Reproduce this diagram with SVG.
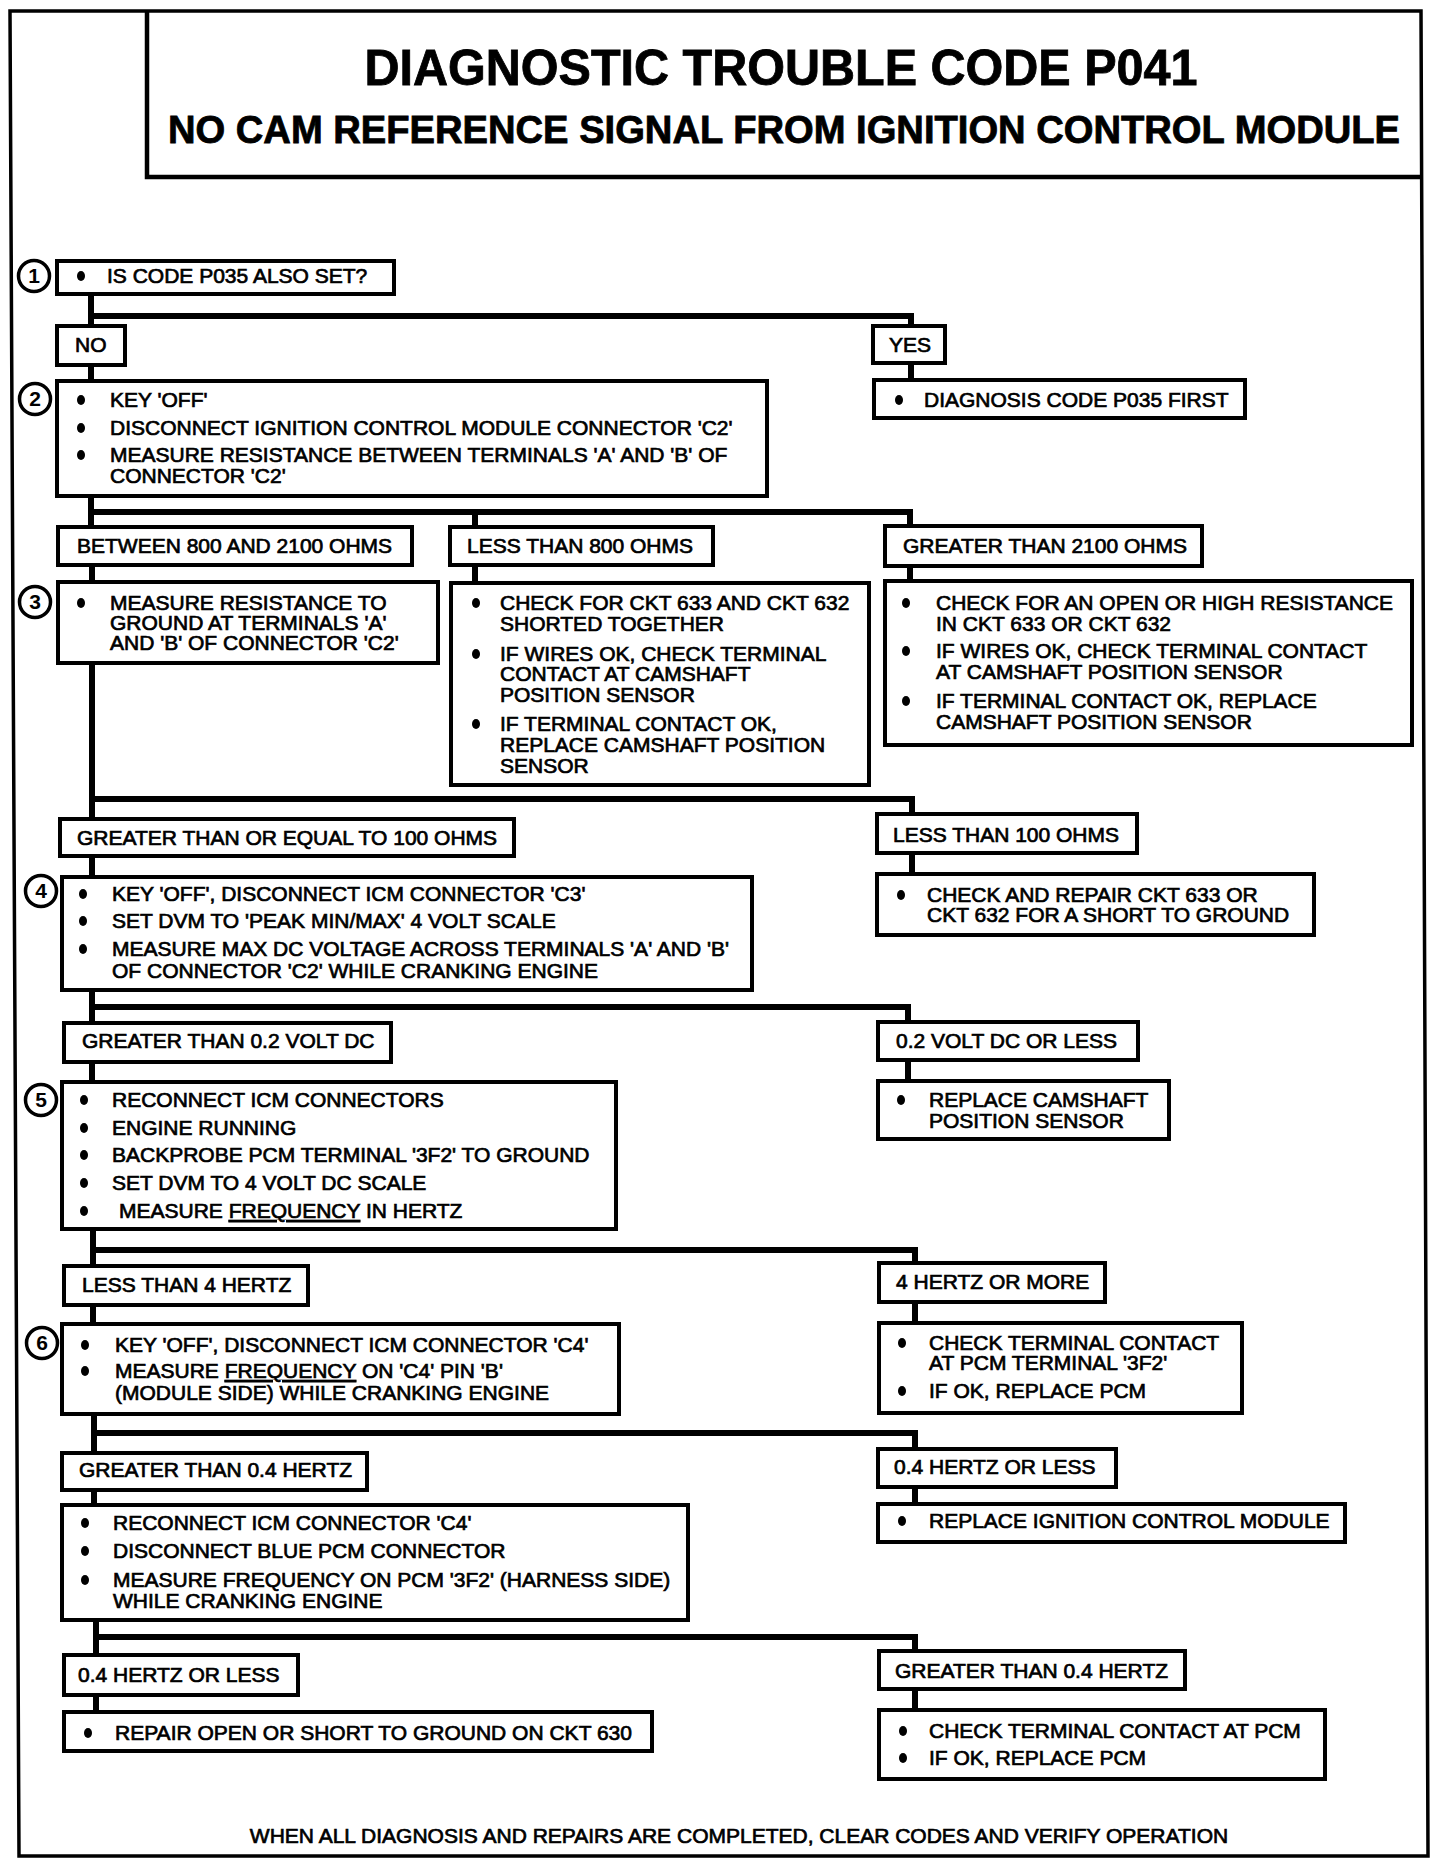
<svg xmlns="http://www.w3.org/2000/svg" width="1440" height="1866" viewBox="0 0 1440 1866">
<style>
.frame{fill:none;stroke:#000;stroke-width:3.5}
.b{fill:#fff;stroke:#000;stroke-width:4}
.c{fill:none;stroke:#000;stroke-width:6;stroke-linejoin:miter}
.n{fill:#fff;stroke:#000;stroke-width:3.5}
text{font-family:"Liberation Sans",Arial,Helvetica,sans-serif;font-size:21px;fill:#000;stroke:#000;stroke-width:0.7}
.title{font-weight:bold;stroke-width:0.8}
.num{font-size:21px;text-anchor:middle;font-weight:bold;stroke-width:0}
.d{fill:#000}
</style>
<defs>
<ellipse id="bl" cx="0" cy="0" rx="4" ry="5" class="d"/>
</defs>
<rect x="0" y="0" width="1440" height="1866" fill="#fff"/>
<path class="frame" d="M10,11 L1421,11 L1428,1856 L19,1856 Z"/>
<g id="title">
<path class="frame" d="M147,11 V177 H1421" style="stroke-width:4.5"/>
<text class="title" x="781" y="85" text-anchor="middle" textLength="833" lengthAdjust="spacingAndGlyphs" style="font-size:50px">DIAGNOSTIC TROUBLE CODE P041</text>
<text class="title" x="168" y="143" textLength="1232" lengthAdjust="spacingAndGlyphs" style="font-size:38px">NO CAM REFERENCE SIGNAL FROM IGNITION CONTROL MODULE</text>
</g>
<g id="connectors">
<path class="c" d="M91,294 V326"/>
<path class="c" d="M91,316 H911 V326"/>
<path class="c" d="M911,363 V380"/>
<path class="c" d="M91,365 V381"/>
<path class="c" d="M91,496 V527"/>
<path class="c" d="M91,512 H910 V526"/>
<path class="c" d="M475,512 V527"/>
<path class="c" d="M92,565 V582"/>
<path class="c" d="M475,565 V583"/>
<path class="c" d="M910,566 V581"/>
<path class="c" d="M92,663 V819"/>
<path class="c" d="M92,799 H912 V814"/>
<path class="c" d="M912,853 V874"/>
<path class="c" d="M92,856 V877"/>
<path class="c" d="M92,990 V1023"/>
<path class="c" d="M92,1007 H908 V1022"/>
<path class="c" d="M908,1060 V1081"/>
<path class="c" d="M92,1062 V1082"/>
<path class="c" d="M93,1229 V1266"/>
<path class="c" d="M93,1250 H915 V1263"/>
<path class="c" d="M915,1302 V1323"/>
<path class="c" d="M93,1305 V1324"/>
<path class="c" d="M94,1414 V1453"/>
<path class="c" d="M94,1433 H915 V1449"/>
<path class="c" d="M915,1487 V1504"/>
<path class="c" d="M94,1490 V1505"/>
<path class="c" d="M96,1620 V1655"/>
<path class="c" d="M96,1637 H915 V1651"/>
<path class="c" d="M915,1689 V1710"/>
<path class="c" d="M96,1695 V1712"/>
</g>
<g id="n1">
<circle class="n" cx="34" cy="276" r="15.5"/><text class="num" x="34" y="283">1</text>
<rect class="b" x="57" y="261" width="337" height="33"/>
<use href="#bl" x="81" y="276"/><text x="107" y="283">IS CODE P035 ALSO SET?</text>
</g>
<g id="no"><rect class="b" x="57" y="326" width="68" height="39"/><text x="75" y="352">NO</text></g>
<g id="yes"><rect class="b" x="873" y="326" width="72" height="37"/><text x="889" y="352">YES</text></g>
<g id="diag"><rect class="b" x="874" y="380" width="371" height="38"/>
<use href="#bl" x="899" y="400"/><text x="924" y="407">DIAGNOSIS CODE P035 FIRST</text></g>
<g id="n2">
<circle class="n" cx="35" cy="399" r="15.5"/><text class="num" x="35" y="406">2</text>
<rect class="b" x="57" y="381" width="710" height="115"/>
<use href="#bl" x="81" y="400"/><text x="110" y="407">KEY 'OFF'</text>
<use href="#bl" x="81" y="428"/><text x="110" y="435">DISCONNECT IGNITION CONTROL MODULE CONNECTOR 'C2'</text>
<use href="#bl" x="81" y="455"/><text x="110" y="462">MEASURE RESISTANCE BETWEEN TERMINALS 'A' AND 'B' OF</text>
<text x="110" y="483">CONNECTOR 'C2'</text>
</g>
<g id="between"><rect class="b" x="58" y="527" width="354" height="38"/><text x="77" y="553">BETWEEN 800 AND 2100 OHMS</text></g>
<g id="less800"><rect class="b" x="450" y="527" width="263" height="38"/><text x="467" y="553">LESS THAN 800 OHMS</text></g>
<g id="gt2100"><rect class="b" x="885" y="526" width="317" height="40"/><text x="903" y="553">GREATER THAN 2100 OHMS</text></g>
<g id="n3">
<circle class="n" cx="35" cy="602" r="15.5"/><text class="num" x="35" y="609">3</text>
<rect class="b" x="58" y="582" width="380" height="81"/>
<use href="#bl" x="81" y="603"/><text x="110" y="610">MEASURE RESISTANCE  TO</text>
<text x="110" y="630">GROUND AT TERMINALS 'A'</text>
<text x="110" y="650">AND 'B' OF CONNECTOR 'C2'</text>
</g>
<g id="short">
<rect class="b" x="451" y="583" width="418" height="202"/>
<use href="#bl" x="476" y="603"/><text x="500" y="610">CHECK FOR CKT 633 AND CKT 632</text>
<text x="500" y="631">SHORTED TOGETHER</text>
<use href="#bl" x="476" y="654"/><text x="500" y="661">IF WIRES OK, CHECK TERMINAL</text>
<text x="500" y="681">CONTACT AT CAMSHAFT</text>
<text x="500" y="702">POSITION SENSOR</text>
<use href="#bl" x="476" y="724"/><text x="500" y="731">IF TERMINAL CONTACT OK,</text>
<text x="500" y="752">REPLACE CAMSHAFT POSITION</text>
<text x="500" y="773">SENSOR</text>
</g>
<g id="open">
<rect class="b" x="885" y="581" width="527" height="164"/>
<use href="#bl" x="906" y="603"/><text x="936" y="610">CHECK FOR AN OPEN OR HIGH RESISTANCE</text>
<text x="936" y="631">IN CKT 633 OR CKT 632</text>
<use href="#bl" x="906" y="651"/><text x="936" y="658">IF WIRES OK, CHECK TERMINAL CONTACT</text>
<text x="936" y="679">AT CAMSHAFT POSITION SENSOR</text>
<use href="#bl" x="906" y="701"/><text x="936" y="708">IF TERMINAL CONTACT OK, REPLACE</text>
<text x="936" y="729">CAMSHAFT POSITION SENSOR</text>
</g>
<g id="ge100"><rect class="b" x="60" y="819" width="454" height="37"/><text x="77" y="845">GREATER THAN OR EQUAL TO 100 OHMS</text></g>
<g id="lt100"><rect class="b" x="877" y="814" width="260" height="39"/><text x="893" y="842">LESS THAN 100 OHMS</text></g>
<g id="repair633">
<rect class="b" x="877" y="874" width="437" height="61"/>
<use href="#bl" x="901" y="895"/><text x="927" y="902">CHECK AND REPAIR CKT 633 OR</text>
<text x="927" y="922">CKT 632 FOR A SHORT TO GROUND</text>
</g>
<g id="n4">
<circle class="n" cx="41" cy="891" r="15.5"/><text class="num" x="41" y="898">4</text>
<rect class="b" x="62" y="877" width="690" height="113"/>
<use href="#bl" x="83" y="894"/><text x="112" y="901">KEY 'OFF', DISCONNECT ICM CONNECTOR 'C3'</text>
<use href="#bl" x="83" y="921"/><text x="112" y="928">SET DVM TO 'PEAK MIN/MAX' 4 VOLT SCALE</text>
<use href="#bl" x="83" y="949"/><text x="112" y="956">MEASURE MAX DC VOLTAGE ACROSS TERMINALS 'A' AND 'B'</text>
<text x="112" y="978">OF CONNECTOR 'C2' WHILE CRANKING ENGINE</text>
</g>
<g id="gt02"><rect class="b" x="64" y="1023" width="327" height="39"/><text x="82" y="1048">GREATER THAN 0.2 VOLT DC</text></g>
<g id="le02"><rect class="b" x="878" y="1022" width="260" height="38"/><text x="896" y="1048">0.2 VOLT DC OR LESS</text></g>
<g id="replcam">
<rect class="b" x="878" y="1081" width="291" height="58"/>
<use href="#bl" x="901" y="1100"/><text x="929" y="1107">REPLACE CAMSHAFT</text>
<text x="929" y="1128">POSITION SENSOR</text>
</g>
<g id="n5">
<circle class="n" cx="41" cy="1100" r="15.5"/><text class="num" x="41" y="1107">5</text>
<rect class="b" x="62" y="1082" width="554" height="147"/>
<use href="#bl" x="84" y="1100"/><text x="112" y="1107">RECONNECT ICM CONNECTORS</text>
<use href="#bl" x="84" y="1128"/><text x="112" y="1135">ENGINE RUNNING</text>
<use href="#bl" x="84" y="1155"/><text x="112" y="1162">BACKPROBE PCM TERMINAL '3F2' TO GROUND</text>
<use href="#bl" x="84" y="1183"/><text x="112" y="1190">SET DVM TO 4 VOLT DC SCALE</text>
<use href="#bl" x="84" y="1211"/><text x="119" y="1218">MEASURE <tspan text-decoration="underline">FREQUENCY</tspan> IN HERTZ</text>
</g>
<g id="lt4"><rect class="b" x="64" y="1266" width="244" height="39"/><text x="82" y="1292">LESS THAN 4 HERTZ</text></g>
<g id="ge4"><rect class="b" x="879" y="1263" width="226" height="39"/><text x="896" y="1289">4 HERTZ OR MORE</text></g>
<g id="chk3f2">
<rect class="b" x="879" y="1323" width="363" height="90"/>
<use href="#bl" x="902" y="1343"/><text x="929" y="1350">CHECK TERMINAL CONTACT</text>
<text x="929" y="1370">AT PCM TERMINAL '3F2'</text>
<use href="#bl" x="902" y="1391"/><text x="929" y="1398">IF OK, REPLACE PCM</text>
</g>
<g id="n6">
<circle class="n" cx="42" cy="1343" r="15.5"/><text class="num" x="42" y="1350">6</text>
<rect class="b" x="62" y="1324" width="557" height="90"/>
<use href="#bl" x="85" y="1345"/><text x="115" y="1352">KEY 'OFF', DISCONNECT ICM CONNECTOR 'C4'</text>
<use href="#bl" x="85" y="1371"/><text x="115" y="1378">MEASURE <tspan text-decoration="underline">FREQUENCY</tspan> ON 'C4' PIN 'B'</text>
<text x="115" y="1400">(MODULE SIDE) WHILE CRANKING ENGINE</text>
</g>
<g id="gt04a"><rect class="b" x="62" y="1453" width="305" height="37"/><text x="79" y="1477">GREATER THAN 0.4 HERTZ</text></g>
<g id="le04a"><rect class="b" x="878" y="1449" width="238" height="38"/><text x="894" y="1474">0.4 HERTZ OR LESS</text></g>
<g id="replicm">
<rect class="b" x="878" y="1504" width="467" height="38"/>
<use href="#bl" x="902" y="1521"/><text x="929" y="1528">REPLACE IGNITION CONTROL MODULE</text>
</g>
<g id="n7">
<rect class="b" x="62" y="1505" width="626" height="115"/>
<use href="#bl" x="85" y="1523"/><text x="113" y="1530">RECONNECT ICM CONNECTOR 'C4'</text>
<use href="#bl" x="85" y="1551"/><text x="113" y="1558">DISCONNECT BLUE PCM CONNECTOR</text>
<use href="#bl" x="85" y="1580"/><text x="113" y="1587">MEASURE FREQUENCY ON PCM '3F2' (HARNESS SIDE)</text>
<text x="113" y="1608">WHILE CRANKING ENGINE</text>
</g>
<g id="le04b"><rect class="b" x="64" y="1655" width="234" height="40"/><text x="78" y="1682">0.4 HERTZ OR LESS</text></g>
<g id="gt04b"><rect class="b" x="879" y="1651" width="306" height="38"/><text x="895" y="1678">GREATER THAN 0.4 HERTZ</text></g>
<g id="repair630">
<rect class="b" x="64" y="1712" width="588" height="39"/>
<use href="#bl" x="88" y="1733"/><text x="115" y="1740">REPAIR OPEN OR SHORT TO GROUND ON CKT 630</text>
</g>
<g id="chkpcm">
<rect class="b" x="879" y="1710" width="446" height="69"/>
<use href="#bl" x="903" y="1731"/><text x="929" y="1738">CHECK TERMINAL CONTACT AT PCM</text>
<use href="#bl" x="903" y="1758"/><text x="929" y="1765">IF OK, REPLACE PCM</text>
</g>
<g id="footer"><text x="739" y="1843" text-anchor="middle">WHEN ALL DIAGNOSIS AND REPAIRS ARE COMPLETED, CLEAR CODES AND VERIFY OPERATION</text></g>
</svg>
